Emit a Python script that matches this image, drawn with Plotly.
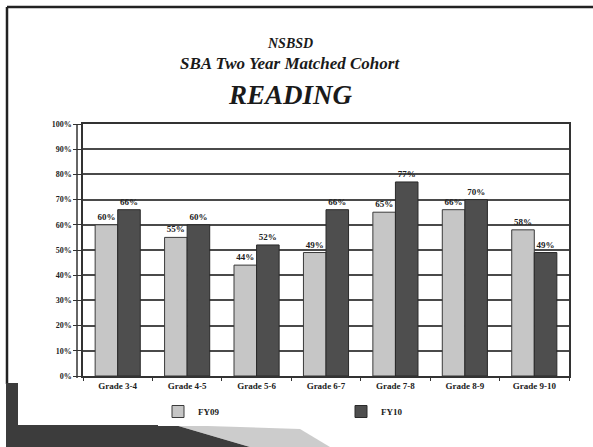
import plotly.graph_objects as go

categories = ["Grade 3-4", "Grade 4-5", "Grade 5-6", "Grade 6-7", "Grade 7-8", "Grade 8-9", "Grade 9-10"]
fy09 = [60, 55, 44, 49, 65, 66, 58]
fy10 = [66, 60, 52, 66, 77, 70, 49]
tick_vals = [0, 10, 20, 30, 40, 50, 60, 70, 80, 90, 100]
tick_text = [f"{v}%" for v in tick_vals]

W, H = 593, 447
L, R, T, B = 83, 24, 124, 71
PW, PH = W - L - R, H - T - B


def px(x):
    return (x - L) / PW


def py(y):
    return (H - B - y) / PH


serif = "Liberation Serif"
lbl_font = dict(family=serif, size=9, color="#222222", weight="bold")

fig = go.Figure()
fig.add_trace(go.Bar(
    name="FY09", x=categories, y=fy09,
    marker=dict(color="#c6c6c6", line=dict(color="#3a3a3a", width=1)),
    text=[f"{v}%" for v in fy09], textposition="outside", textfont=lbl_font,
    cliponaxis=False,
))
fig.add_trace(go.Bar(
    name="FY10", x=categories, y=fy10,
    marker=dict(color="#4e4e4e", line=dict(color="#2a2a2a", width=1)),
    text=[f"{v}%" for v in fy10], textposition="outside", textfont=lbl_font,
    cliponaxis=False,
))

shapes = [
    # slide frame lines
    dict(type="line", xref="paper", yref="paper", x0=px(7), x1=px(593), y0=py(7), y1=py(7),
         line=dict(color="#222222", width=2.5)),
    dict(type="line", xref="paper", yref="paper", x0=px(7), x1=px(7), y0=py(7), y1=py(384),
         line=dict(color="#222222", width=2.5)),
    # 3D-style offset vertical axis line
    dict(type="line", xref="paper", yref="paper", x0=px(77), x1=px(77), y0=py(124), y1=py(378),
         line=dict(color="#333333", width=1.5)),
    # bottom-left dark decoration
    dict(type="path", xref="paper", yref="paper",
         path=f"M {px(6)},{py(383)} L {px(18)},{py(383)} L {px(18)},{py(425)} L {px(175)},{py(425)} "
              f"L {px(250)},{py(447)} L {px(6)},{py(447)} Z",
         fillcolor="#3c3c3c", line=dict(width=0)),
    dict(type="path", xref="paper", yref="paper",
         path=f"M {px(175)},{py(425)} L {px(300)},{py(429)} L {px(330)},{py(447)} L {px(250)},{py(447)} Z",
         fillcolor="#9a9a9a", opacity=0.5, line=dict(width=0)),
]

title_font = dict(family=serif, color="#1a1a1a", style="italic", weight="bold")
annotations = [
    dict(text="NSBSD", x=px(290), y=py(43), xref="paper", yref="paper", showarrow=False,
         yanchor="middle", font=dict(size=14, **title_font)),
    dict(text="SBA Two Year Matched Cohort", x=px(290), y=py(64), xref="paper", yref="paper",
         yanchor="middle", showarrow=False, font=dict(size=17, **title_font)),
    dict(text="READING", x=px(290), y=py(95), xref="paper", yref="paper", showarrow=False,
         yanchor="middle", font=dict(size=27, **title_font)),
]

fig.update_layout(
    width=W, height=H,
    margin=dict(l=L, r=R, t=T, b=B, autoexpand=False),
    paper_bgcolor="white", plot_bgcolor="white",
    barmode="group", bargap=0.35, bargroupgap=0,
    showlegend=True,
    legend=dict(orientation="h", x=px(158), y=py(397), xanchor="left", yanchor="top",
                entrywidth=138, entrywidthmode="pixels",
                font=dict(family=serif, size=9, color="#222222", weight="bold"),
                itemwidth=30),
    xaxis=dict(showgrid=False, showline=True, linecolor="#333333", linewidth=1.5, mirror=True,
               ticks="outside", ticklen=3, tickcolor="#333333", tickson="boundaries",
               tickfont=dict(family=serif, size=9, color="#222222", weight="bold")),
    yaxis=dict(range=[0, 100], tickvals=tick_vals, ticktext=tick_text,
               showgrid=True, gridcolor="#4a4a4a", gridwidth=1.5,
               showline=True, linecolor="#333333", linewidth=1.5, mirror=True,
               ticks="outside", ticklen=8, tickcolor="#333333",
               tickfont=dict(family=serif, size=8, color="#222222", weight="bold"),
               zeroline=False),
    shapes=shapes,
    annotations=annotations,
    font=dict(family=serif),
)

fig.write_html("out.html", config={"displayModeBar": False},
               post_script="document.body.style.margin='0';document.body.style.overflow='hidden';")
